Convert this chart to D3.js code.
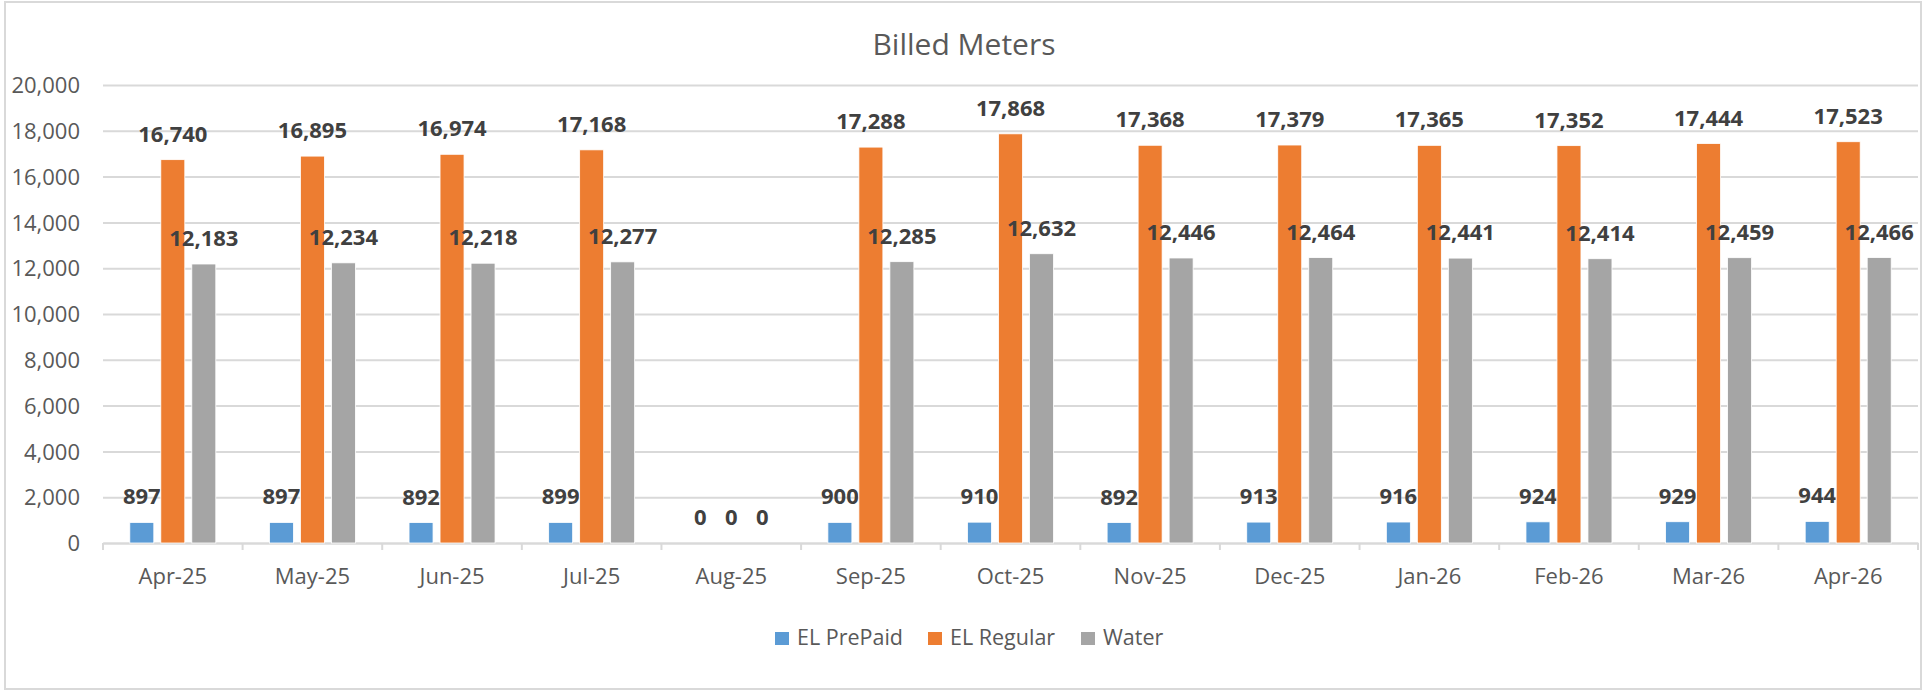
<!DOCTYPE html>
<html>
<head>
<meta charset="utf-8">
<script src="https://cdn.jsdelivr.net/npm/d3@7"></script>
<style>
  body { margin: 0; background: #fff; }
  text { font-family: "Open Sans", sans-serif; }
</style>
</head>
<body>
<svg width="1923" height="692"></svg>
<script>
//data
const months = ['Apr-25', 'May-25', 'Jun-25', 'Jul-25', 'Aug-25', 'Sep-25', 'Oct-25', 'Nov-25', 'Dec-25', 'Jan-26', 'Feb-26', 'Mar-26', 'Apr-26'];
const series = ['EL PrePaid', 'EL Regular', 'Water'];
const prePaid = [897, 897, 892, 899, 0, 900, 910, 892, 913, 916, 924, 929, 944];
const regular = [16740, 16895, 16974, 17168, 0, 17288, 17868, 17368, 17379, 17365, 17352, 17444, 17523];
const water = [12183, 12234, 12218, 12277, 0, 12285, 12632, 12446, 12464, 12441, 12414, 12459, 12466];
const yTicks = [0, 2000, 4000, 6000, 8000, 10000, 12000, 14000, 16000, 18000, 20000];

const colors = ['#5b9bd5', '#ed7d31', '#a5a5a5'];
const values = [prePaid, regular, water];

//set up
const svg = d3.select('svg');
const fmt = d3.format(',');

svg.append('rect')
  .attr('x', 5).attr('y', 2)
  .attr('width', 1916).attr('height', 687)
  .attr('fill', '#fff')
  .attr('stroke', '#d9d9d9')
  .attr('stroke-width', 2);

const x = d3.scaleBand().domain(months).range([103, 1918]);
const bw = x.bandwidth();
const xs = d3.scaleBand().domain(series).range([bw / 2 - 43, bw / 2 + 43]).paddingInner(0.2258);
const y = d3.scaleLinear().domain([0, 20000]).range([543, 85]);

//title
svg.append('text')
  .attr('x', 964).attr('y', 55)
  .attr('text-anchor', 'middle')
  .style('font-size', '30px')
  .style('fill', '#595959')
  .text('Billed Meters');

//grid + y axis
const yAxis = svg.append('g')
  .attr('transform', 'translate(103,0)')
  .call(d3.axisLeft(y).tickValues(yTicks).tickFormat(fmt).tickSize(-(1918 - 103)).tickPadding(23));
yAxis.select('.domain').remove();
yAxis.selectAll('line').attr('stroke', '#d9d9d9').attr('stroke-width', 2);
yAxis.selectAll('text')
  .style('font-size', '22px')
  .style('fill', '#595959')
  .attr('dy', '0.35em');

//x axis
const xAxis = svg.append('g')
  .attr('transform', 'translate(0,543)')
  .call(d3.axisBottom(x).tickSize(0).tickPadding(30));
xAxis.select('.domain').attr('stroke', '#d9d9d9').attr('stroke-width', 2);
xAxis.selectAll('text')
  .style('font-size', '22px')
  .style('fill', '#595959')
  .attr('dy', '0.5em');

//category separators
svg.append('g')
  .selectAll('line')
  .data(months.concat(['end']))
  .join('line')
  .attr('x1', (d, i) => 103 + i * bw)
  .attr('x2', (d, i) => 103 + i * bw)
  .attr('y1', 543).attr('y2', 550)
  .attr('stroke', '#d9d9d9')
  .attr('stroke-width', 2);

//bars
const groups = svg.append('g')
  .selectAll('g')
  .data(months)
  .join('g')
  .attr('transform', d => `translate(${x(d)},0)`);

const cells = groups.selectAll('g')
  .data((m, i) => series.map((s, j) => ({ s, j, v: values[j][i] })))
  .join('g');

cells.append('rect')
  .attr('x', d => xs(d.s))
  .attr('width', xs.bandwidth())
  .attr('y', d => y(d.v))
  .attr('height', d => y(0) - y(d.v))
  .attr('fill', d => colors[d.j])
  .attr('stroke', '#fff')
  .attr('stroke-width', 0.8);

cells.append('text')
  .attr('x', d => xs(d.s) + xs.bandwidth() / 2)
  .attr('y', d => y(d.v) - 18)
  .attr('text-anchor', 'middle')
  .style('font-size', '22px')
  .style('font-weight', 'bold')
  .style('fill', '#404040')
  .text(d => fmt(d.v));

//legend
const legendX = [775, 928, 1081];
const legend = svg.append('g')
  .selectAll('g')
  .data(series)
  .join('g')
  .attr('transform', (d, i) => `translate(${legendX[i]},632)`);

legend.append('rect')
  .attr('width', 14).attr('height', 13)
  .attr('fill', (d, i) => colors[i]);

legend.append('text')
  .attr('x', 22).attr('y', 13)
  .style('font-size', '21.5px')
  .style('fill', '#595959')
  .text(d => d);
</script>
</body>
</html>
